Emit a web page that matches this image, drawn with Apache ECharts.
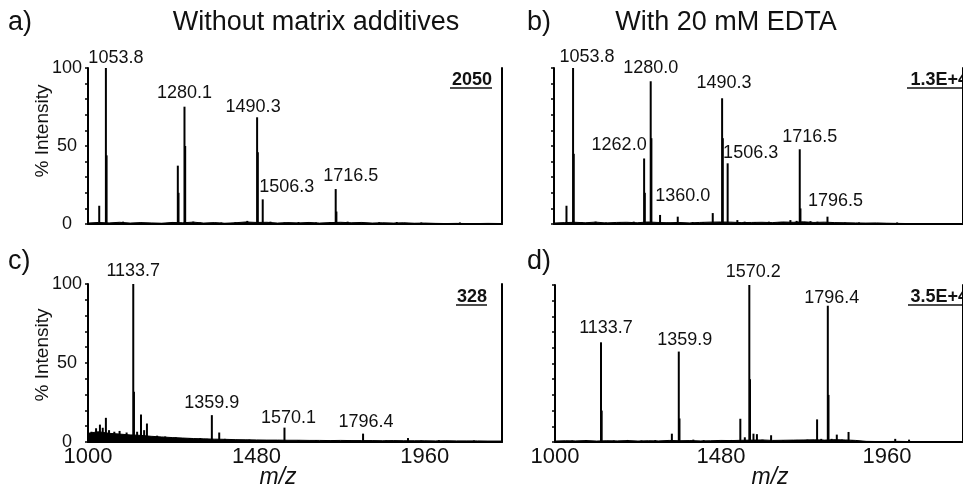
<!DOCTYPE html>
<html lang="en">
<head>
	<meta charset="UTF-8">
	<title>MALDI spectra</title>
	<style>
		* { margin: 0; padding: 0; }
		#box { width: 963px; height: 493px; background: #fff; }
	</style>
	<script src="https://cdn.jsdelivr.net/npm/echarts@6/dist/echarts.min.js"></script>
</head>
<body>
<div id="box"></div>
<script>
	// x tick labels
	const mzTicks = [1000, 1480, 1960];

	// baseline noise, sampled on one m/z grid
	const noiseMz = [1000, 1030, 1060, 1090, 1120, 1150, 1180, 1210, 1240, 1270, 1300, 1330, 1360, 1390, 1420, 1450, 1480, 1510, 1540, 1570,
		1600, 1630, 1660, 1690, 1720, 1750, 1780, 1810, 1840, 1870, 1900, 1930, 1960, 1990, 2020, 2050, 2080, 2110, 2140, 2180];
	const noiseA = [0.6, 1.0, 0.7, 1.1, 0.6, 0.9, 0.7, 0.5, 1.0, 0.8, 1.2, 0.6, 0.9, 0.5, 0.8, 1.3, 1.0, 1.1, 0.6, 0.9,
		0.7, 1.0, 0.6, 0.9, 1.1, 0.8, 1.0, 0.6, 0.8, 0.6, 0.8, 0.5, 0.6, 0.4, 0.3, 0.4, 0.3, 0.3, 0.4, 0.3];
	const noiseB = [0.6, 0.9, 1.1, 0.8, 1.2, 0.7, 1.0, 1.1, 0.8, 1.3, 1.0, 0.8, 1.0, 0.7, 1.0, 1.2, 1.3, 1.2, 0.9, 1.0,
		1.1, 0.9, 1.3, 1.1, 1.4, 1.0, 1.2, 0.9, 0.8, 0.7, 0.6, 0.7, 0.5, 0.4, 0.3, 0.3, 0.3, 0.3, 0.3, 0.3];
	const noiseC = [5.5, 6.5, 5.5, 5.0, 4.5, 4.2, 3.6, 3.2, 2.8, 2.5, 2.2, 2.0, 1.8, 1.7, 1.5, 1.4, 1.3, 1.2, 1.2, 1.1,
		1.1, 1.0, 1.0, 0.9, 1.0, 0.9, 0.9, 0.9, 0.8, 0.9, 0.8, 0.8, 0.8, 0.7, 0.8, 0.7, 0.7, 0.7, 0.6, 0.6];
	const noiseD = [0.6, 0.8, 0.7, 0.9, 0.6, 0.8, 0.7, 0.9, 0.6, 0.8, 0.7, 1.0, 0.8, 0.9, 0.7, 0.8, 1.0, 0.9, 1.1, 1.2,
		1.3, 1.0, 1.1, 1.2, 1.3, 1.4, 1.2, 1.5, 1.3, 1.0, 0.4, 0.3, 0.3, 0.4, 0.3, 0.3, 0.3, 0.3, 0.3, 0.3];

	// a) without matrix additives
	const peaksA_mz = [1051, 1275, 1482, 1498, 1706];
	const peaksA_int = [100, 75.2, 68.4, 15.8, 22.4];
	const peaksA_text = ['1053.8', '1280.1', '1490.3', '1506.3', '1716.5'];
	const minorA_mz = [1032, 1053, 1256, 1258, 1277, 1454, 1484, 1708, 1100, 1150, 1240, 1300, 1320, 1380, 1420, 1520, 1560, 1600, 1650, 1690, 1740, 1780, 1830, 1880, 1950, 2060];
	const minorA_int = [11.7, 44, 37.4, 20, 50, 2, 46, 8, 1.5, 1, 1.2, 1.5, 1, 1, 1.2, 1.5, 1, 1.3, 1, 1.2, 1.5, 1, 1.2, 1.3, 1, 1];

	// b) with 20 mM EDTA
	const peaksB_mz = [1055, 1260, 1279, 1357, 1485, 1501, 1709, 1789];
	const peaksB_int = [100, 42, 91.5, 4.7, 80.6, 38.9, 47.9, 4.7];
	const peaksB_text = ['1053.8', '1262.0', '1280.0', '1360.0', '1490.3', '1506.3', '1716.5', '1796.5'];
	const minorB_mz = [1036, 1057, 1262, 1281, 1306, 1458, 1487, 1529, 1682, 1711, 1080, 1120, 1150, 1190, 1230, 1330, 1400, 1430, 1550, 1580, 1620, 1650, 1700, 1740, 1760, 1840, 1880, 1990];
	const minorB_int = [11.7, 45, 20, 55, 5.8, 7, 55, 2.5, 2.5, 10, 1.3, 1.5, 1, 1.2, 1.5, 1, 1.3, 1.2, 1.5, 1.2, 1.5, 1.2, 2, 1.8, 1.5, 1, 1, 1];

	// c) without matrix additives
	const peaksC_mz = [1129, 1353, 1560, 1784];
	const peaksC_int = [100, 17, 9.1, 5.3];
	const peaksC_text = ['1133.7', '1359.9', '1570.1', '1796.4'];
	const minorC_mz = [1131, 1051, 1034, 1023, 1151, 1168, 1374, 1912, 1010, 1042, 1060, 1075, 1090, 1110, 1140, 1160, 1197, 1220, 1250, 1290, 1320, 1340, 1390, 1420, 1460, 1500, 1600, 1650, 1700, 1750, 1850, 1950, 2000, 2100];
	const minorC_int = [31.8, 15.3, 11, 8.7, 17.4, 11.7, 6, 2.5, 6.5, 9, 7.5, 6.5, 7, 6, 6.5, 7.5, 4, 3.5, 3, 2.5, 2.5, 2, 2, 1.5, 1.5, 1.2, 1.2, 1.2, 1, 1, 1, 1, 1.2, 1];

	// d) with 20 mM EDTA
	const peaksD_mz = [1133, 1358, 1562, 1789];
	const peaksD_int = [63.5, 57.6, 100, 86.8];
	const peaksD_text = ['1133.7', '1359.9', '1570.2', '1796.4'];
	const minorD_mz = [1135, 1338, 1360, 1536, 1549, 1564, 1574, 1584, 1625, 1758, 1791, 1815, 1849, 1984, 2024, 1050, 1090, 1170, 1210, 1250, 1290, 1400, 1430, 1470, 1510, 1600, 1660, 1700, 1730, 1770, 1800, 1830, 1860];
	const minorD_int = [20, 5.3, 15, 14.8, 3, 40, 5.3, 5, 4.3, 14.4, 30, 4.7, 6.4, 2, 1.5, 1, 1.2, 1, 1.3, 1, 1.2, 1.5, 1.2, 1, 1.3, 1.5, 1.2, 1.3, 1.5, 2, 2, 1.5, 1.2];

	// total ion counts shown in the corner
	const totals = ['2050', '1.3E+4', '328', '3.5E+4'];

	// label nudges (px) for each labelled peak
	const offsA = [[10, 4], [0, 0], [-4, 4], [24, 2], [15, 1]];
	const offsB = [[14, 3], [-25, 1], [0, 1], [5, -7], [2, -1], [23, 4], [10, 2], [8, -2]];
	const offsC = [[0, 1], [0, 2], [4, 4], [3, 2]];
	const offsD = [[5, 0], [6, 2], [4, 1], [4, 6]];

	const FONT = '"Liberation Sans", Arial, sans-serif';

	const grids = [
		{left: 88, top: 68, width: 414, height: 156},
		{left: 554, top: 68, width: 414, height: 156},
		{left: 88, top: 284, width: 414, height: 158},
		{left: 555, top: 285, width: 414, height: 157},
	];

	function stickData(mz, inten, text, offs) {
		return mz.map(function (m, i) {
			const item = {value: [m, inten[i]]};
			if (text) {
				item.label = {show: true, formatter: text[i], offset: offs[i]};
			}
			return item;
		});
	}

	function pair(xs, ys) {
		return xs.map(function (x, i) {
			return [x, ys[i]];
		});
	}

	const panels = [
		{noise: noiseA, pm: peaksA_mz, pi: peaksA_int, pt: peaksA_text, po: offsA, mm: minorA_mz, mi: minorA_int},
		{noise: noiseB, pm: peaksB_mz, pi: peaksB_int, pt: peaksB_text, po: offsB, mm: minorB_mz, mi: minorB_int},
		{noise: noiseC, pm: peaksC_mz, pi: peaksC_int, pt: peaksC_text, po: offsC, mm: minorC_mz, mi: minorC_int},
		{noise: noiseD, pm: peaksD_mz, pi: peaksD_int, pt: peaksD_text, po: offsD, mm: minorD_mz, mi: minorD_int},
	];

	const xAxes = [], yAxes = [], series = [];
	panels.forEach(function (p, i) {
		const bottomRow = i >= 2;
		xAxes.push({
			type: 'value', gridIndex: i, min: 1000, max: 2180, interval: 480,
			axisLine: {show: true, lineStyle: {color: '#000', width: 2}},
			axisTick: {show: false},
			splitLine: {show: false},
			axisLabel: {
				show: bottomRow, showMaxLabel: false, margin: 4,
				color: '#111', fontSize: 22, fontFamily: FONT,
				formatter: function (v) {
					return mzTicks.indexOf(v) >= 0 ? String(v) : '';
				},
			},
		});
		yAxes.push({
			type: 'value', gridIndex: i, min: 0, max: 100, interval: 50,
			axisLine: {show: true, lineStyle: {color: '#000', width: 2}},
			axisTick: {show: true, length: 3, lineStyle: {color: '#000', width: 1.5}},
			minorTick: {show: true, splitNumber: 5, length: 3, lineStyle: {color: '#000', width: 1.5}},
			splitLine: {show: false},
			axisLabel: {
				show: i % 2 === 0, align: 'center', margin: 21,
				color: '#111', fontSize: 18, fontFamily: FONT,
			},
		});
		series.push({
			type: 'line', xAxisIndex: i, yAxisIndex: i, showSymbol: false, silent: true,
			data: pair(noiseMz, p.noise),
			lineStyle: {color: '#000', width: 1},
			areaStyle: {color: '#000', opacity: 1},
			z: 2,
		});
		series.push({
			type: 'bar', xAxisIndex: i, yAxisIndex: i, barWidth: 2, silent: true,
			data: stickData(p.mm, p.mi).concat(stickData(p.pm, p.pi, p.pt, p.po)),
			itemStyle: {color: '#000'},
			label: {position: 'top', distance: 5, color: '#111', fontSize: 18, fontFamily: FONT},
			z: 3,
		});
	});
	// right frame line of each panel
	panels.forEach(function (p, i) {
		yAxes.push({
			type: 'value', gridIndex: i, min: 0, max: 100, position: 'right',
			axisLine: {show: true, lineStyle: {color: '#000', width: 2}},
			axisTick: {show: false}, axisLabel: {show: false}, splitLine: {show: false},
		});
	});

	function text(x, y, s, size, extra) {
		return Object.assign({
			type: 'text', x: x, y: y, silent: true,
			style: Object.assign({text: s, fill: '#111', fontSize: size, fontFamily: FONT, textVerticalAlign: 'middle'}, extra || {}),
		});
	}

	function total(xr, y, s, ul) {
		return [
			text(xr, y, s, 18, {textAlign: 'right', fontWeight: 'bold'}),
			{type: 'line', silent: true, shape: {x1: ul[0], y1: y + 8, x2: ul[1], y2: y + 8}, style: {stroke: '#111', lineWidth: 1.5}},
		];
	}

	const graphics = [
		text(8, 23, 'a)', 27),
		text(316, 23, 'Without matrix additives', 27, {textAlign: 'center'}),
		text(527, 23, 'b)', 27),
		text(726, 23, 'With 20 mM EDTA', 27, {textAlign: 'center'}),
		text(8, 262, 'c)', 27),
		text(527, 262, 'd)', 27),
		Object.assign(text(43, 131, '% Intensity', 19, {textAlign: 'center'}), {rotation: Math.PI / 2}),
		Object.assign(text(43, 355, '% Intensity', 19, {textAlign: 'center'}), {rotation: Math.PI / 2}),
		text(278, 478, 'm/z', 23, {textAlign: 'center', fontStyle: 'italic'}),
		text(770, 478, 'm/z', 23, {textAlign: 'center', fontStyle: 'italic'}),
	]
		.concat(total(492, 80, totals[0], [450, 492]))
		.concat(total(968, 80, totals[1], [907, 968]))
		.concat(total(487, 297, totals[2], [456, 487]))
		.concat(total(968, 297, totals[3], [908, 968]));

	const myEcharts = echarts.init(document.getElementById('box'), null, {renderer: 'canvas'});
	myEcharts.setOption({
		animation: false,
		backgroundColor: '#fff',
		grid: grids,
		xAxis: xAxes,
		yAxis: yAxes,
		series: series,
		graphic: graphics,
	});
</script>
</body>
</html>
